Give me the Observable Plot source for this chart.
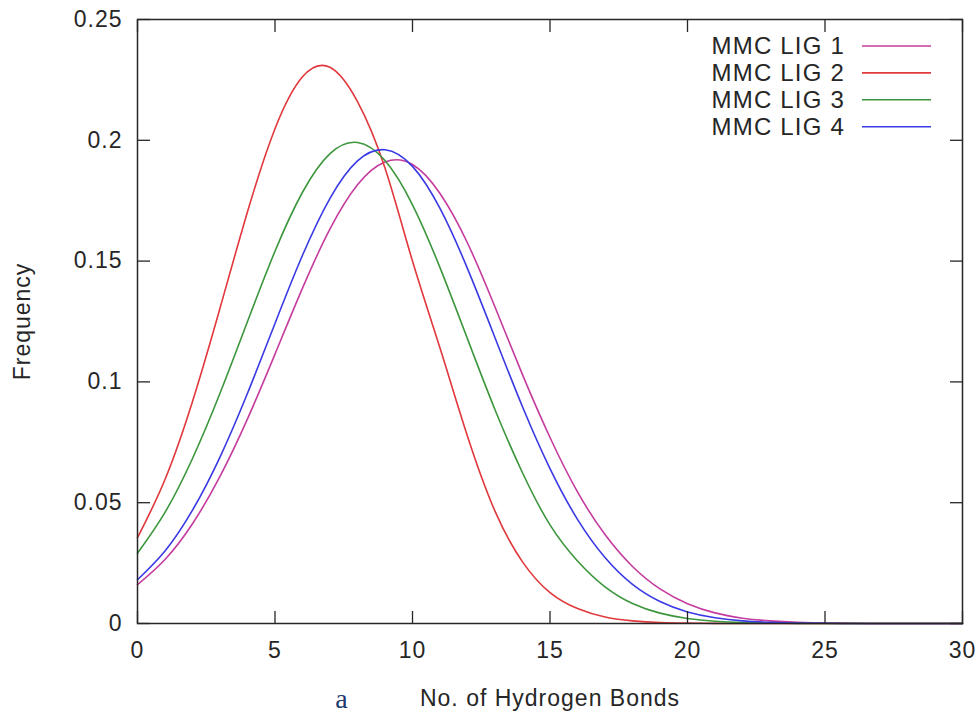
<!DOCTYPE html>
<html><head><meta charset="utf-8">
<script src="https://cdn.jsdelivr.net/npm/d3@7"></script>
<script src="https://cdn.jsdelivr.net/npm/@observablehq/plot@0.6"></script>
<style>
body{margin:0;background:#fff;}
</style></head><body><div id="chart"></div>
<script>
const bonds = [0,1,2,3,4,5,6,7,8,9,10,11,12,13,14,15,16,17,18,19,20,21,22,23,24,25,26,27,28,29,30];
const lig1 = [0.0161,0.0265,0.0413,0.0609,0.0847,0.1115,0.1388,0.1633,0.1816,0.1910,0.1900,0.1780,0.1575,0.1310,0.1030,0.0770,0.0545,0.0368,0.0236,0.0143,0.0082,0.0044,0.0022,0.0011,0.0005,0.0002,0.0001,0,0,0,0];
const lig2 = [0.0355,0.0596,0.0919,0.1305,0.1704,0.2048,0.2263,0.2302,0.2160,0.1885,0.1500,0.1140,0.0775,0.0465,0.0255,0.0128,0.0062,0.0027,0.0011,0.0004,0.00015,0.00005,0,0,0,0,0,0,0,0,0];
const lig3 = [0.0291,0.0460,0.0683,0.0953,0.1250,0.1541,0.1785,0.1945,0.1991,0.1916,0.1733,0.1473,0.1178,0.0885,0.0624,0.0408,0.0259,0.0152,0.0083,0.0043,0.0021,0.00096,0.00041,0.00016,0.00006,0,0,0,0,0,0];
const lig4 = [0.0181,0.0300,0.0469,0.0689,0.0953,0.1242,0.1524,0.1760,0.1915,0.1961,0.1892,0.1718,0.1469,0.1183,0.0897,0.0641,0.0431,0.0273,0.0162,0.0091,0.0048,0.0024,0.0011,0.0005,0.0002,0.00008,0,0,0,0,0];
const seriesNames = ["MMC LIG 1","MMC LIG 2","MMC LIG 3","MMC LIG 4"];
const seriesColors = ["#c43c9e","#e0383c","#3c963c","#3a3ae4"];
const xTicks = [0,5,10,15,20,25,30];
const xTickLabels = ["0","5","10","15","20","25","30"];
const yTicks = [0,0.05,0.1,0.15,0.2,0.25];
const yTickLabels = ["0","0.05","0.1","0.15","0.2","0.25"];
const xLabel = "No. of Hydrogen Bonds";
const yLabel = "Frequency";
const captionText = "a";

const seriesValues = [lig1, lig2, lig3, lig4];
const rows = [];
seriesValues.forEach((vals, s) => bonds.forEach((x, i) => rows.push({x, y: vals[i], series: seriesNames[s]})));

const ink = "#262626";

function legendMark(index, scales, values, dims) {
  const g = d3.create("svg:g").attr("font-family", "Liberation Sans, Arial, sans-serif").attr("font-size", 24);
  const right = dims.width - dims.marginRight;
  seriesNames.forEach((name, i) => {
    const y = dims.marginTop + 27 + i * 26.9;
    g.append("text").attr("x", right - 117).attr("y", y).attr("dy", "0.35em")
      .attr("text-anchor", "end").attr("fill", ink).attr("letter-spacing", "1.2px").text(name);
    g.append("line").attr("x1", right - 100).attr("x2", right - 31).attr("y1", y).attr("y2", y)
      .attr("stroke", scales.color(name)).attr("stroke-width", 1.6);
  });
  return g.node();
}

function captionMark(index, scales, values, dims) {
  return d3.create("svg:text")
    .attr("x", dims.marginLeft + 205).attr("y", dims.height - 9)
    .attr("text-anchor", "middle")
    .attr("font-family", "Liberation Serif, Times New Roman, serif")
    .attr("font-size", 28).attr("fill", "#1f3a6e").text(captionText).node();
}

const chart = Plot.plot({
  width: 979,
  height: 717,
  marginTop: 19,
  marginLeft: 137,
  marginRight: 17,
  marginBottom: 94,
  style: {fontSize: "23px", fontFamily: "Liberation Sans, Arial, sans-serif", color: ink, letterSpacing: "1px", background: "#fff"},
  x: {domain: [0, 30]},
  y: {domain: [0, 0.25]},
  color: {domain: seriesNames, range: seriesColors},
  marks: [
    Plot.line(rows, {x: "x", y: "y", z: "series", stroke: "series", curve: "natural", strokeWidth: 1.6}),
    Plot.frame({stroke: ink, strokeWidth: 1.5}),
    Plot.axisX({anchor: "bottom", ticks: xTicks, tickSize: -12, fill: "none", stroke: ink, strokeWidth: 1.3}),
    Plot.axisX({anchor: "top", ticks: xTicks, tickSize: -12, fill: "none", stroke: ink, strokeWidth: 1.3}),
    Plot.axisY({anchor: "left", ticks: yTicks, tickSize: -13, fill: "none", stroke: ink, strokeWidth: 1.3}),
    Plot.axisY({anchor: "right", ticks: yTicks, tickSize: -13, fill: "none", stroke: ink, strokeWidth: 1.3}),
    Plot.axisX({anchor: "bottom", ticks: xTicks, tickFormat: (d, i) => xTickLabels[i], tickSize: 0, tickPadding: 18,
      label: xLabel, labelAnchor: "center", labelOffset: 82, labelArrow: "none", fill: ink}),
    Plot.axisY({anchor: "left", ticks: yTicks, tickFormat: (d, i) => yTickLabels[i], tickSize: 0, tickPadding: 15,
      label: yLabel, labelAnchor: "center", labelOffset: 124, labelArrow: "none", fill: ink}),
    legendMark,
    captionMark
  ]
});
document.getElementById("chart").append(chart);
</script></body></html>
